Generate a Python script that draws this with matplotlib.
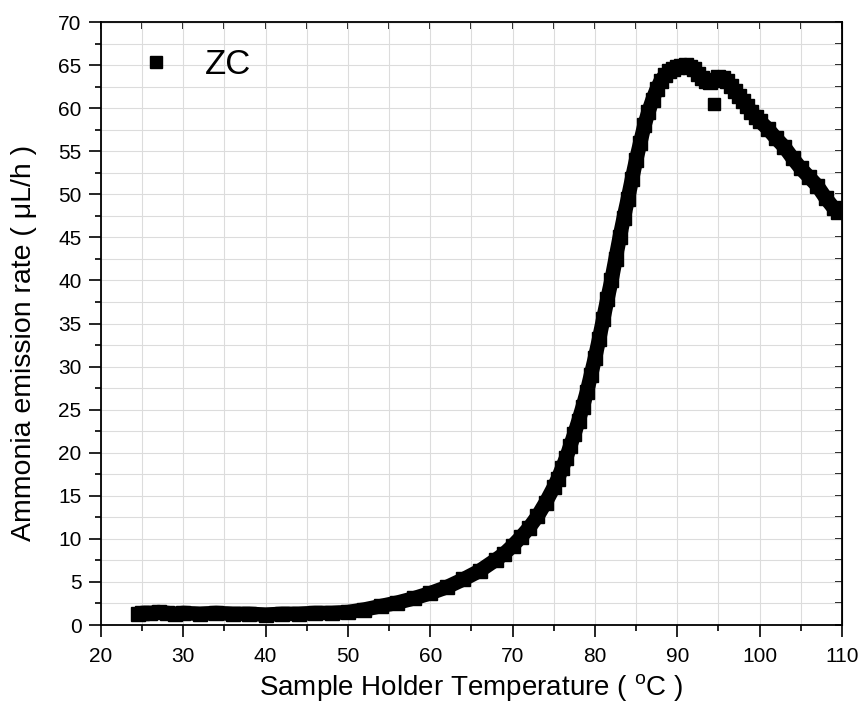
import matplotlib
matplotlib.use("Agg")
import matplotlib.pyplot as plt
from matplotlib.ticker import MultipleLocator
from matplotlib.lines import Line2D

plt.rcParams['font.family'] = ['Liberation Sans', 'DejaVu Sans']

series_label = "ZC"
temperature = [24.5, 25, 26, 27, 28, 29, 30, 32, 34, 36, 38, 40, 42, 44, 46, 48, 50,
               52, 54, 56, 58, 60, 62, 64, 66, 68, 69, 70, 71, 72, 73, 74, 75, 75.5,
               76, 76.5, 77, 77.5, 78, 78.5, 79, 79.5, 80, 80.5, 81, 81.5, 82, 82.5,
               83, 83.5, 84, 84.5, 85, 85.5, 86, 86.5, 87, 87.5, 88, 88.5, 89, 89.5,
               90, 90.5, 91, 91.5, 92, 92.5, 93, 93.5, 94, 94.5, 95, 95.5, 96, 96.5,
               97, 97.5, 98, 98.5, 99, 99.5, 100, 101, 102, 103, 104, 105, 106, 107,
               108, 109, 109.5]
emission = [1.3, 1.4, 1.4, 1.5, 1.4, 1.3, 1.4, 1.3, 1.4, 1.3, 1.3, 1.2, 1.3, 1.3, 1.4, 1.4, 1.5,
            1.8, 2.2, 2.6, 3.1, 3.7, 4.4, 5.3, 6.3, 7.6, 8.3, 9.2, 10.2, 11.3, 12.6, 14.2, 16.0, 17.0,
            18.2, 19.4, 20.8, 22.2, 23.7, 25.3, 27.0, 29.0, 31.0, 33.2, 35.5, 37.8, 40.0, 42.5,
            45.0, 47.3, 49.5, 51.8, 54.0, 56.0, 58.0, 59.6, 61.0, 62.2, 63.2, 63.8, 64.3, 64.6,
            64.8, 64.9, 65.0, 64.8, 64.5, 64.0, 63.5, 63.2, 63.0, 63.3, 63.6, 63.5, 63.2, 62.6,
            62.0, 61.4, 60.8, 60.2, 59.6, 59.0, 58.5, 57.6, 56.5, 55.5, 54.2, 53.0, 52.0, 51.0,
            49.6, 48.4, 48.0]
outlier_temperature = [94.4]
outlier_emission = [60.5]

fig = plt.figure(figsize=(8.64, 7.22), dpi=100)
ax = fig.add_axes([0.1169, 0.1343, 0.9745 - 0.1169, 0.9695 - 0.1343])

ax.plot(temperature, emission, '-', color='black', lw=10.5, solid_capstyle='butt',
        solid_joinstyle='round', zorder=3)
ax.plot(temperature, emission, 's', color='black', ms=10, zorder=4)
ax.plot(outlier_temperature, outlier_emission, 's', color='black', ms=8.5, zorder=4)

ax.set_xlim(20, 110)
ax.set_ylim(0, 70)
ax.xaxis.set_major_locator(MultipleLocator(10))
ax.xaxis.set_minor_locator(MultipleLocator(5))
ax.yaxis.set_major_locator(MultipleLocator(5))
ax.yaxis.set_minor_locator(MultipleLocator(2.5))

ax.grid(True, which='both', color='#dcdcdc', lw=0.8, zorder=0)
ax.set_axisbelow(True)

for s in ax.spines.values():
    s.set_linewidth(1.3)

ax.tick_params(axis='x', which='major', direction='out', length=8.8, width=1.2,
               labelsize=15, pad=7)
ax.tick_params(axis='y', which='major', direction='out', length=9, width=1.2,
               labelsize=15, pad=5)
ax.tick_params(which='minor', direction='out', length=4.2, width=1.2)
ax.tick_params(which='both', top=False, right=False)

# mirrored ticks on top / right pointing inward
axt = ax.secondary_xaxis('top')
axt.xaxis.set_major_locator(MultipleLocator(10))
axt.xaxis.set_minor_locator(MultipleLocator(5))
axt.tick_params(which='both', direction='in', length=5, width=1.2, labeltop=False)
axr = ax.secondary_yaxis('right')
axr.yaxis.set_major_locator(MultipleLocator(5))
axr.yaxis.set_minor_locator(MultipleLocator(2.5))
axr.tick_params(which='both', direction='in', length=5, width=1.2, labelright=False)

ax.set_xlabel("Sample Holder Temperature ( $^{\\mathregular{o}}$C )", fontsize=20)
ax.set_ylabel("Ammonia emission rate ( \u03bcL/h )", fontsize=20.5)
ax.xaxis.set_label_coords(0.5, -0.078, transform=ax.transAxes)
ax.yaxis.set_label_coords(-0.086, 0.468, transform=ax.transAxes)

handle = Line2D([], [], marker='s', color='black', ls='none', ms=8.5)
ax.legend([handle], [series_label], loc='upper left', frameon=False, fontsize=25,
          handletextpad=0.41, bbox_to_anchor=(0.0, 0.99), borderaxespad=0.17)

fig.savefig("out.png", dpi=100)
